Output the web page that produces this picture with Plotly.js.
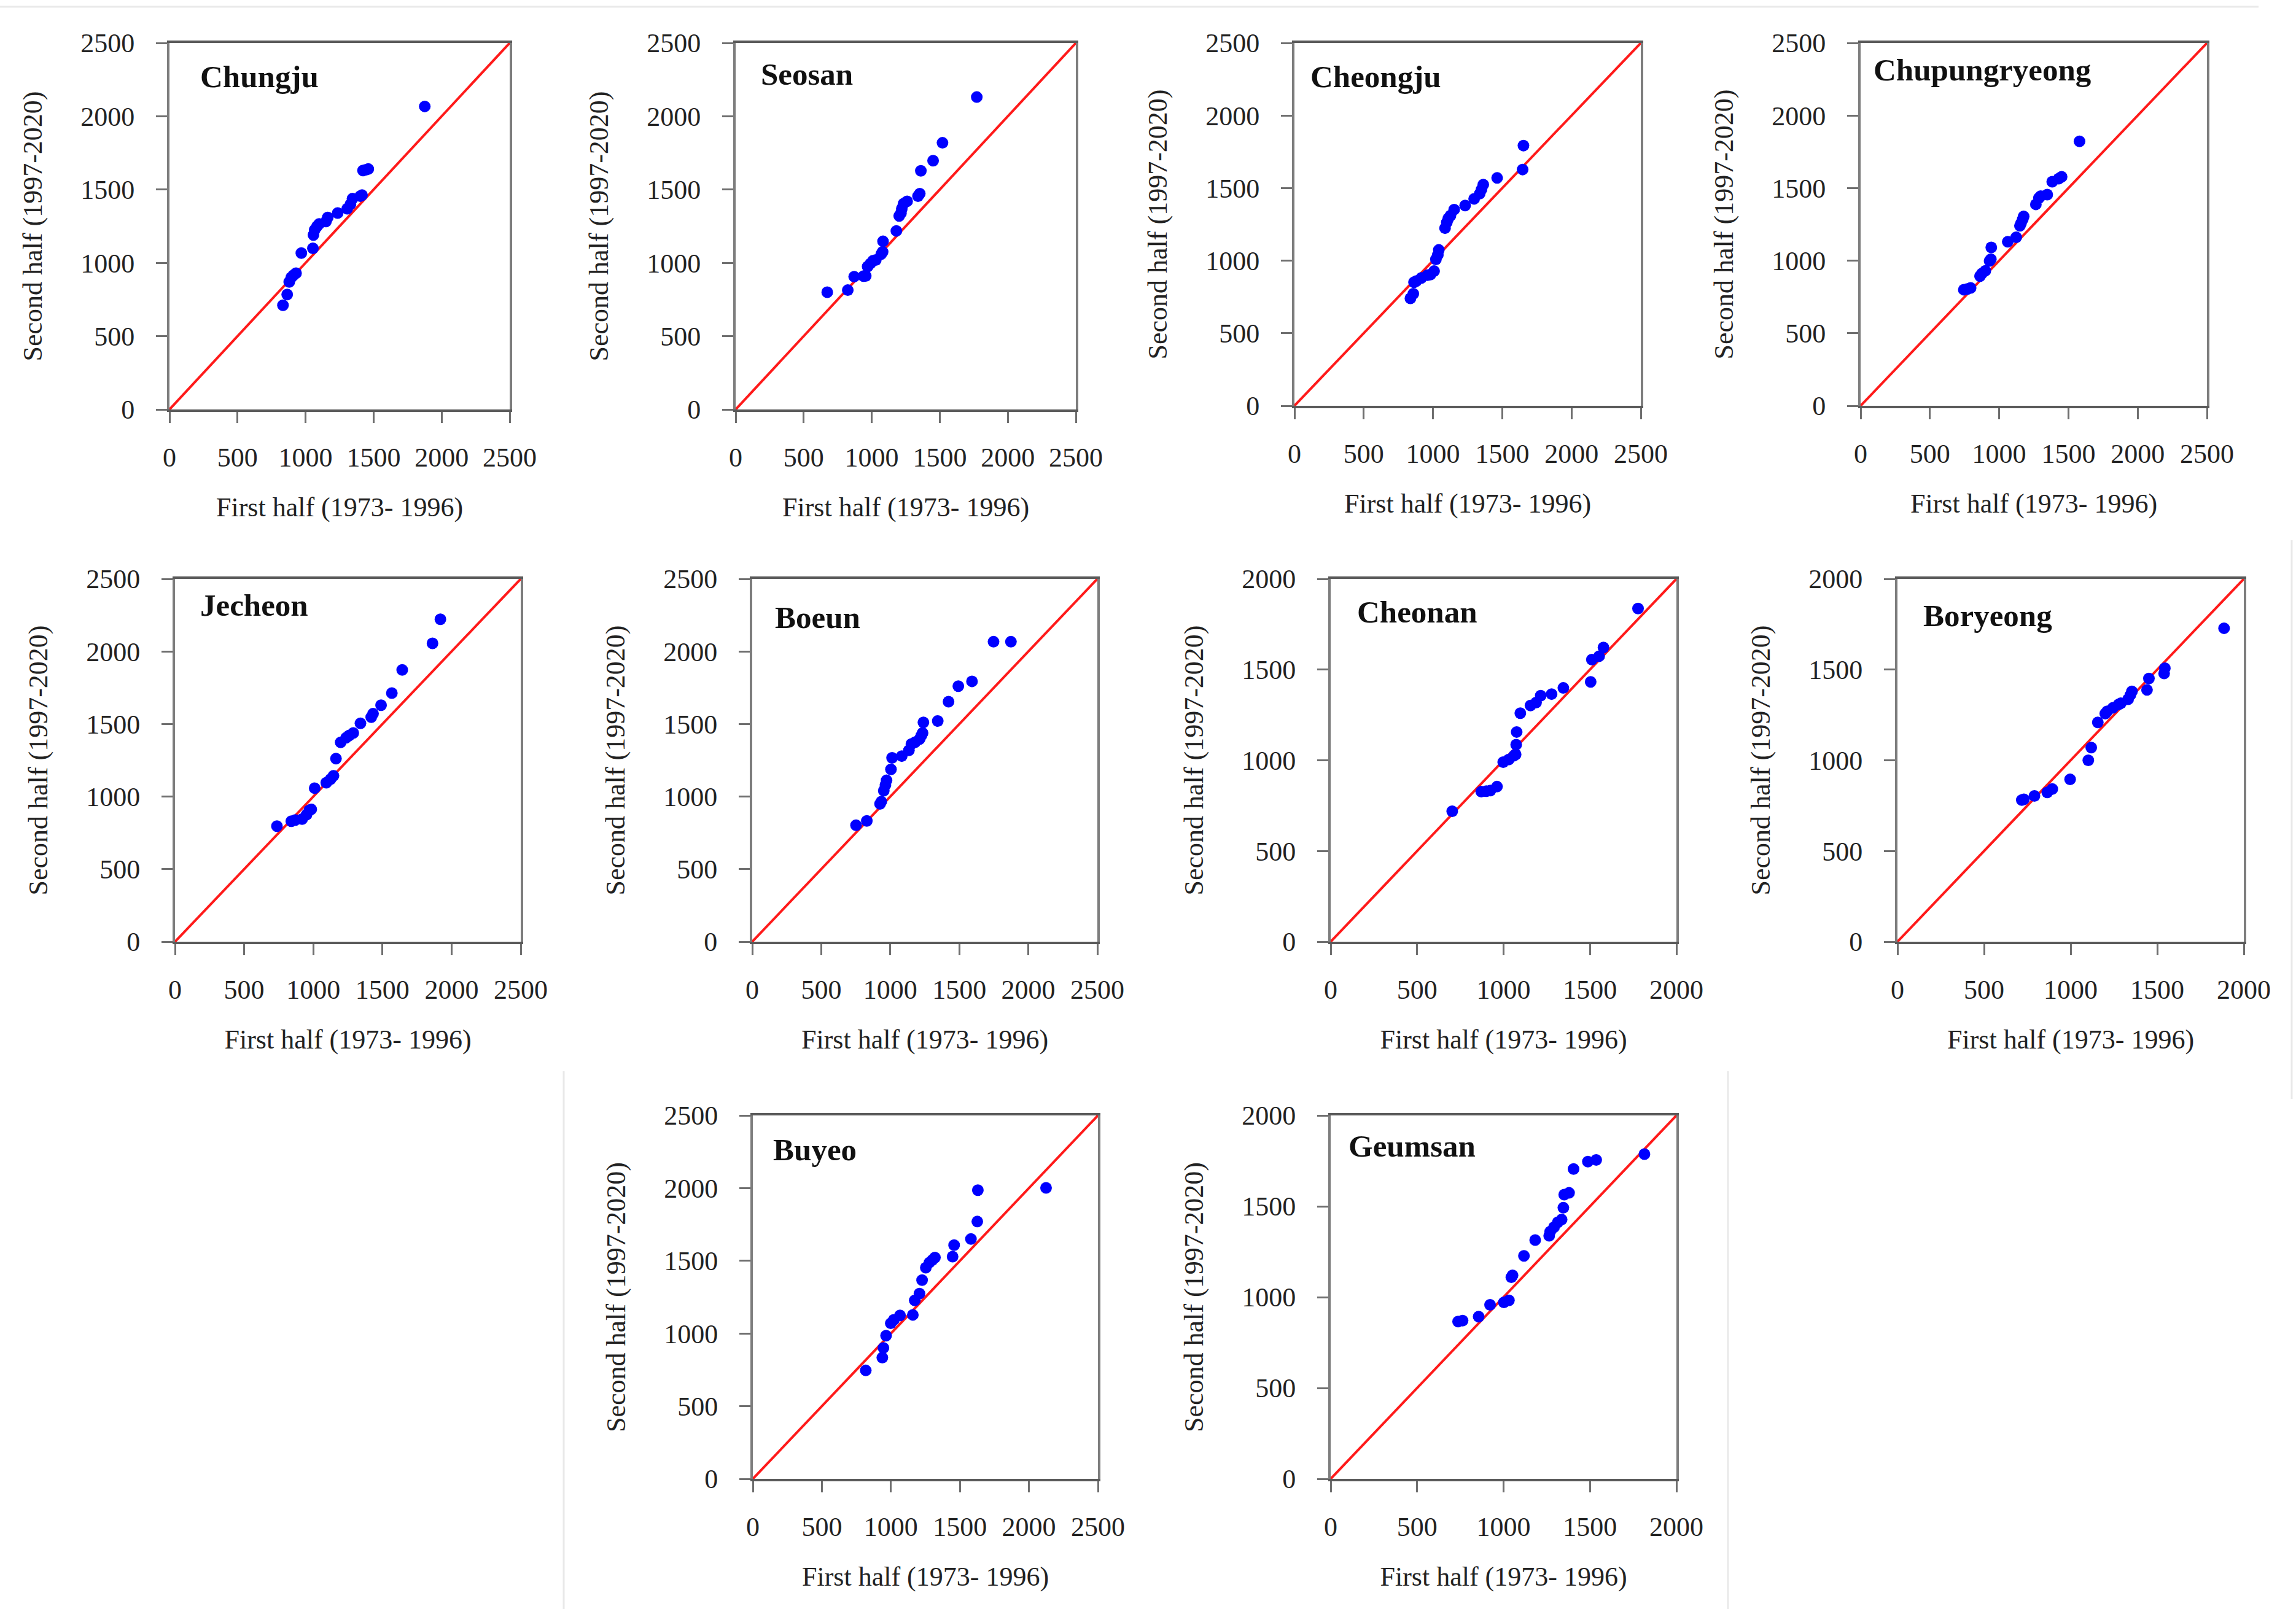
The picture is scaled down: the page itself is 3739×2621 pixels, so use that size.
<!DOCTYPE html>
<html>
<head>
<meta charset="utf-8">
<script src="https://cdn.plot.ly/plotly-3.0.1.min.js"></script>
<style>html,body{margin:0;padding:0;background:#fff;}#chart{width:3739px;height:2621px;}</style>
</head>
<body>
<div id="chart"></div>
<script>
// ---- Data (quantile pairs) ----
const stations = ["Chungju","Seosan","Cheongju","Chupungryeong","Jecheon","Boeun","Cheonan","Boryeong","Buyeo","Geumsan"];
const axisMax  = [2500,2500,2500,2500,2500,2500,2000,2000,2500,2000];
const tickVals2500 = [0,500,1000,1500,2000,2500];
const tickVals2000 = [0,500,1000,1500,2000];

const chungjuFirst  = [834,865,880,895,910,930,969,1054,1058,1067,1085,1100,1150,1163,1236,1306,1330,1345,1402,1415,1422,1445,1461,1876];
const chungjuSecond = [711,784,870,900,915,930,1067,1099,1190,1225,1250,1266,1282,1310,1340,1369,1400,1438,1455,1462,1630,1635,1640,2067];

const seosanFirst  = [673,824,871,940,956,970,990,1009,1030,1070,1080,1083,1181,1202,1215,1221,1234,1260,1340,1353,1361,1451,1520,1772];
const seosanSecond = [800,814,906,910,911,975,995,1014,1020,1060,1075,1147,1218,1320,1340,1369,1404,1420,1455,1472,1628,1697,1819,2131];

const cheongjuFirst  = [837,858,863,880,916,960,982,1008,1021,1035,1042,1087,1100,1110,1126,1153,1232,1297,1337,1350,1363,1463,1647,1653];
const cheongjuSecond = [740,772,851,860,881,900,904,928,1009,1040,1074,1224,1264,1290,1310,1352,1380,1426,1461,1490,1524,1570,1628,1793];

const chupungFirst  = [745,770,794,862,876,900,931,940,943,1062,1123,1150,1158,1170,1177,1265,1287,1300,1347,1383,1430,1451,1580];
const chupungSecond = [800,805,812,894,912,930,998,1010,1091,1130,1161,1240,1258,1285,1305,1388,1432,1445,1455,1544,1565,1578,1822];

const jecheonFirst  = [737,841,870,919,951,971,985,1010,1094,1125,1146,1164,1198,1237,1260,1289,1341,1419,1432,1490,1568,1643,1862,1919];
const jecheonSecond = [796,830,839,845,875,905,912,1058,1096,1120,1143,1262,1374,1405,1421,1438,1505,1547,1571,1630,1713,1873,2056,2222];

const boeunFirst  = [752,830,926,935,953,965,973,1005,1013,1083,1135,1153,1180,1213,1225,1234,1240,1344,1422,1493,1592,1748,1874];
const boeunSecond = [803,832,950,965,1041,1080,1112,1188,1267,1279,1319,1362,1375,1397,1420,1438,1511,1521,1654,1761,1794,2067,2067];

const cheonanFirst  = [703,871,900,924,962,998,1030,1060,1070,1073,1076,1097,1156,1188,1215,1278,1346,1504,1511,1553,1578,1778];
const cheonanSecond = [719,827,830,833,855,990,1004,1025,1032,1086,1156,1260,1302,1318,1356,1365,1399,1432,1555,1574,1622,1837];

const boryeongFirst  = [718,730,791,865,894,997,1102,1119,1157,1200,1211,1244,1277,1290,1332,1345,1354,1441,1452,1540,1544,1886];
const boryeongSecond = [781,785,804,823,842,895,1000,1070,1209,1257,1270,1289,1308,1315,1337,1360,1380,1388,1451,1479,1508,1728];

const buyeoFirst  = [818,938,946,965,999,1021,1066,1159,1173,1207,1226,1253,1279,1300,1319,1447,1458,1580,1626,1630,2124];
const buyeoSecond = [746,834,901,985,1070,1094,1124,1128,1228,1274,1367,1453,1488,1505,1522,1529,1608,1650,1770,1986,2002];

const geumsanFirst  = [737,763,856,922,1002,1031,1045,1052,1118,1183,1264,1270,1292,1314,1336,1346,1351,1379,1405,1488,1536,1815];
const geumsanSecond = [866,871,893,958,971,982,1110,1120,1227,1314,1338,1361,1385,1412,1427,1492,1564,1574,1705,1746,1755,1787];

const firstHalf  = [chungjuFirst,seosanFirst,cheongjuFirst,chupungFirst,jecheonFirst,boeunFirst,cheonanFirst,boryeongFirst,buyeoFirst,geumsanFirst];
const secondHalf = [chungjuSecond,seosanSecond,cheongjuSecond,chupungSecond,jecheonSecond,boeunSecond,cheonanSecond,boryeongSecond,buyeoSecond,geumsanSecond];

const xTitle = "First half (1973- 1996)";
const yTitle = "Second half (1997-2020)";

// ---- Layout (pixel boxes of each plot area) ----
const W = 3739, H = 2621;
const boxes = [
  [276, 830, 70, 667],
  [1198,1752, 70, 667],
  [2108,2672, 70, 661],
  [3030,3594, 70, 661],
  [285, 848, 943,1534],
  [1225,1787, 943,1534],
  [2167,2730, 943,1534],
  [3090,3654, 943,1534],
  [1226,1788,1817,2409],
  [2167,2730,1817,2409]
];
// label offsets (px from plot left, px from plot top)
const labelOff = [[48,55],[39,51],[24,55],[19,44],[39,43],[35,63],[41,54],[40,60],[31,56],[27,50]];

const FONT = "Liberation Serif, Times New Roman, serif";
const traces = [];
const layout = {
  width: W, height: H,
  margin: {l:0,r:0,t:0,b:0},
  paper_bgcolor: "#ffffff",
  plot_bgcolor: "#ffffff",
  showlegend: false,
  font: {family: FONT, size: 43, color: "#222"},
  annotations: [],
  shapes: []
};

stations.forEach((name, i) => {
  const k = i + 1;
  const xa = "x" + (k === 1 ? "" : k);
  const ya = "y" + (k === 1 ? "" : k);
  const [l, r, t, b] = boxes[i];
  const ticks = axisMax[i] === 2500 ? tickVals2500 : tickVals2000;
  const axBase = {
    range: [0, axisMax[i]],
    tickvals: ticks,
    ticktext: ticks.map(String),
    showgrid: false,
    zeroline: false,
    showline: true,
    mirror: true,
    ticks: "outside",
    ticklen: 18,
    tickwidth: 3,
    tickcolor: "#6f6f6f",
    tickfont: {family: FONT, size: 44, color: "#222"},
    fixedrange: true
  };
  layout["xaxis" + (k === 1 ? "" : k)] = Object.assign({}, axBase, {
    domain: [l / W, r / W],
    anchor: ya,
    linecolor: "#5a5a5a",
    linewidth: 4,
    ticklabelstandoff: 18,
    title: {text: xTitle, font: {family: FONT, size: 44, color: "#222"}, standoff: 42}
  });
  layout["yaxis" + (k === 1 ? "" : k)] = Object.assign({}, axBase, {
    domain: [1 - b / H, 1 - t / H],
    anchor: xa,
    linecolor: "#7d7d7d",
    linewidth: 4,
    ticklabelstandoff: 26,
    title: {text: yTitle, font: {family: FONT, size: 44, color: "#222"}, standoff: 50}
  });
  // 1:1 line
  traces.push({
    type: "scatter", mode: "lines",
    x: [0, axisMax[i]], y: [0, axisMax[i]],
    xaxis: xa, yaxis: ya,
    line: {color: "#ff1a1a", width: 4},
    hoverinfo: "skip"
  });
  // quantile points
  traces.push({
    type: "scatter", mode: "markers",
    x: firstHalf[i], y: secondHalf[i],
    xaxis: xa, yaxis: ya,
    name: name,
    marker: {color: "#0000ff", size: 19, line: {width: 0}},
    cliponaxis: false
  });
  const [ox, oy] = labelOff[i];
  layout.annotations.push({
    text: "<b>" + name + "</b>",
    xref: xa + " domain", yref: ya + " domain",
    x: ox / (r - l), y: 1 - oy / (b - t),
    xanchor: "left", yanchor: "middle",
    showarrow: false,
    font: {family: FONT, size: 51, color: "#111"}
  });
});

// faint panel frame lines from the composited figure
const faint = {color: "#e9e9e9", width: 3};
layout.shapes.push(
  {type: "line", xref: "paper", yref: "paper", x0: 0, x1: 3678 / W, y0: 1 - 11 / H, y1: 1 - 11 / H, line: faint},
  {type: "line", xref: "paper", yref: "paper", x0: 3732 / W, x1: 3732 / W, y0: 1 - 880 / H, y1: 1 - 1790 / H, line: faint},
  {type: "line", xref: "paper", yref: "paper", x0: 918 / W, x1: 918 / W, y0: 1 - 1745 / H, y1: 0, line: faint},
  {type: "line", xref: "paper", yref: "paper", x0: 2814 / W, x1: 2814 / W, y0: 1 - 1745 / H, y1: 0, line: faint}
);

Plotly.newPlot("chart", traces, layout, {staticPlot: true, displayModeBar: false});
</script>
</body>
</html>
